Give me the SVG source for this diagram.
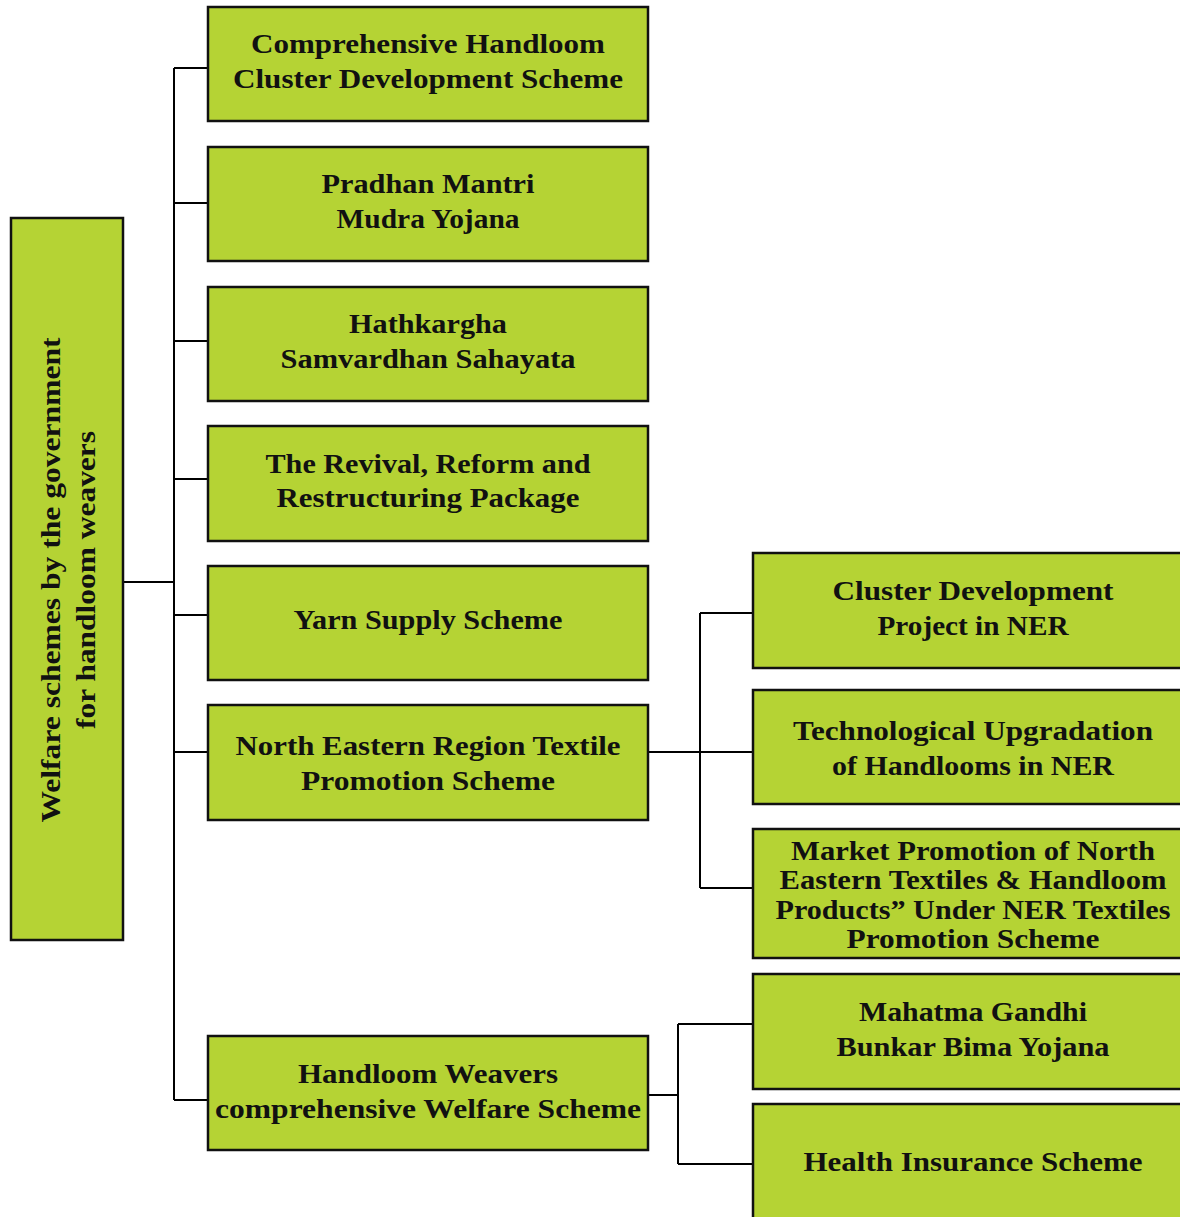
<svg xmlns="http://www.w3.org/2000/svg" width="1180" height="1217" viewBox="0 0 1180 1217">
<style>
.box{fill:#b5d334;stroke:#111;stroke-width:2.5}
.t{font-family:"Liberation Serif","Times New Roman",serif;font-weight:bold;font-size:27px;fill:#111;text-anchor:middle}
.c{fill:none;stroke:#000;stroke-width:2}
</style>
<rect width="1180" height="1217" fill="#fff"/>
<g id="connectors">
<path class="c" d="M123,582H174M174,68V1100M174,68H208M174,203H208M174,341H208M174,479H208M174,615H208M174,752H208M174,1100H208"/>
<path class="c" d="M648,752H753M700,613V888M700,613H753M700,888H753"/>
<path class="c" d="M648,1095H678M678,1024V1164M678,1024H753M678,1164H753"/>
</g>
<g id="root">
<rect class="box" x="11" y="218" width="112" height="722"/>
<text class="t" transform="translate(60,580) rotate(-90)" textLength="485" lengthAdjust="spacingAndGlyphs">Welfare schemes by the government</text>
<text class="t" transform="translate(95,580) rotate(-90)" textLength="298" lengthAdjust="spacingAndGlyphs">for handloom weavers</text>
</g>
<g id="n1">
<rect class="box" x="208" y="7" width="440" height="114"/>
<text class="t" x="428" y="53" textLength="354" lengthAdjust="spacingAndGlyphs">Comprehensive Handloom</text>
<text class="t" x="428" y="88" textLength="390" lengthAdjust="spacingAndGlyphs">Cluster Development Scheme</text>
</g>
<g id="n2">
<rect class="box" x="208" y="147" width="440" height="114"/>
<text class="t" x="428" y="193" textLength="213" lengthAdjust="spacingAndGlyphs">Pradhan Mantri</text>
<text class="t" x="428" y="228" textLength="183" lengthAdjust="spacingAndGlyphs">Mudra Yojana</text>
</g>
<g id="n3">
<rect class="box" x="208" y="287" width="440" height="114"/>
<text class="t" x="428" y="333" textLength="158" lengthAdjust="spacingAndGlyphs">Hathkargha</text>
<text class="t" x="428" y="368" textLength="295" lengthAdjust="spacingAndGlyphs">Samvardhan Sahayata</text>
</g>
<g id="n4">
<rect class="box" x="208" y="426" width="440" height="115"/>
<text class="t" x="428" y="473" textLength="325" lengthAdjust="spacingAndGlyphs">The Revival, Reform and</text>
<text class="t" x="428" y="507" textLength="303" lengthAdjust="spacingAndGlyphs">Restructuring Package</text>
</g>
<g id="n5">
<rect class="box" x="208" y="566" width="440" height="114"/>
<text class="t" x="428" y="629" textLength="269" lengthAdjust="spacingAndGlyphs">Yarn Supply Scheme</text>
</g>
<g id="n6">
<rect class="box" x="208" y="705" width="440" height="115"/>
<text class="t" x="428" y="755" textLength="385" lengthAdjust="spacingAndGlyphs">North Eastern Region Textile</text>
<text class="t" x="428" y="790" textLength="254" lengthAdjust="spacingAndGlyphs">Promotion Scheme</text>
</g>
<g id="n7">
<rect class="box" x="208" y="1036" width="440" height="114"/>
<text class="t" x="428" y="1083" textLength="260" lengthAdjust="spacingAndGlyphs">Handloom Weavers</text>
<text class="t" x="428" y="1118" textLength="426" lengthAdjust="spacingAndGlyphs">comprehensive Welfare Scheme</text>
</g>
<g id="r1">
<rect class="box" x="753" y="553" width="440" height="115"/>
<text class="t" x="973" y="600" textLength="281" lengthAdjust="spacingAndGlyphs">Cluster Development</text>
<text class="t" x="973" y="635" textLength="191" lengthAdjust="spacingAndGlyphs">Project in NER</text>
</g>
<g id="r2">
<rect class="box" x="753" y="690" width="440" height="114"/>
<text class="t" x="973" y="740" textLength="360" lengthAdjust="spacingAndGlyphs">Technological Upgradation</text>
<text class="t" x="973" y="775" textLength="282" lengthAdjust="spacingAndGlyphs">of Handlooms in NER</text>
</g>
<g id="r3">
<rect class="box" x="753" y="829" width="440" height="129"/>
<text class="t" x="973" y="860" textLength="364" lengthAdjust="spacingAndGlyphs">Market Promotion of North</text>
<text class="t" x="973" y="889" textLength="387" lengthAdjust="spacingAndGlyphs">Eastern Textiles &amp; Handloom</text>
<text class="t" x="973" y="919" textLength="395" lengthAdjust="spacingAndGlyphs">Products” Under NER Textiles</text>
<text class="t" x="973" y="948" textLength="253" lengthAdjust="spacingAndGlyphs">Promotion Scheme</text>
</g>
<g id="r4">
<rect class="box" x="753" y="974" width="440" height="115"/>
<text class="t" x="973" y="1021" textLength="228" lengthAdjust="spacingAndGlyphs">Mahatma Gandhi</text>
<text class="t" x="973" y="1056" textLength="273" lengthAdjust="spacingAndGlyphs">Bunkar Bima Yojana</text>
</g>
<g id="r5">
<rect class="box" x="753" y="1104" width="440" height="130"/>
<text class="t" x="973" y="1171" textLength="339" lengthAdjust="spacingAndGlyphs">Health Insurance Scheme</text>
</g>
</svg>
